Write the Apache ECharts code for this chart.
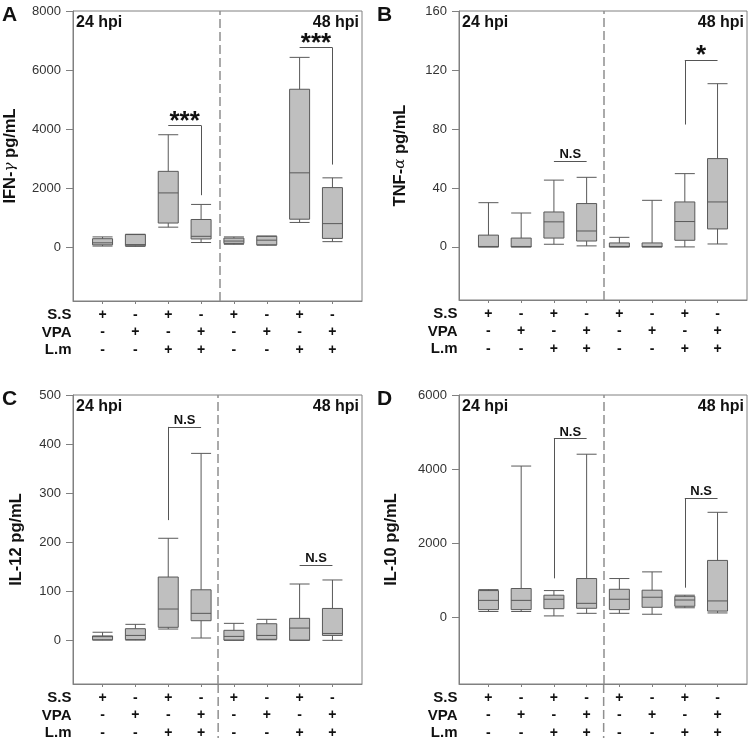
<!DOCTYPE html>
<html><head><meta charset="utf-8">
<script src="https://cdn.jsdelivr.net/npm/echarts@6/dist/echarts.min.js"></script>
<style>html,body{margin:0;padding:0;background:#fff}#c{width:749px;height:742px}</style>
</head><body><div id="c"></div><script>
// ---------- data ----------
const positions = [1, 2, 3, 4, 5, 6, 7, 8];
const rowNames = ['S.S', 'VPA', 'L.m'];
const ssRow  = ['+', '-', '+', '-', '+', '-', '+', '-'];
const vpaRow = ['-', '+', '-', '+', '-', '+', '-', '+'];
const lmRow  = ['-', '-', '+', '+', '-', '-', '+', '+'];
const timeLabels = ['24 hpi', '48 hpi'];
// each box: [min, Q1, median, Q3, max]
const ifnG = [[40, 80, 150, 290, 350], [30, 50, 90, 430, 440], [680, 820, 1840, 2570, 3810], [160, 280, 370, 940, 1450],
              [100, 130, 210, 310, 350], [70, 80, 240, 370, 380], [840, 950, 2520, 5350, 6430], [190, 300, 800, 2020, 2350]];
const tnfA = [[0, 0, 0.3, 8, 30], [0, 0, 0.3, 6, 23], [1.8, 6, 17, 23.7, 45.3], [0.7, 4, 10.8, 29.4, 47.2],
              [0, 0, 0.3, 2.7, 6.5], [0, 0, 0.3, 2.7, 31.6], [0, 4.5, 17.2, 30.5, 49.7], [2, 12.2, 30.5, 59.9, 110.7]];
const il12 = [[0.5, 1, 7.5, 9, 16.5], [0.5, 1.5, 10, 23.7, 32.6], [23, 26.5, 63.8, 129, 208], [4.7, 40, 55, 103, 381],
              [0, 0.5, 8, 20.4, 34.6], [1, 2, 10, 33.8, 42.8], [0, 0.3, 25, 44.8, 114.8], [0, 10, 14, 65, 123]];
const il10 = [[150, 200, 450, 715, 740], [150, 200, 450, 770, 4080], [30, 226, 480, 590, 715], [100, 236, 370, 1040, 4400],
              [100, 200, 480, 750, 1040], [75, 263, 535, 725, 1220], [250, 290, 460, 560, 590], [110, 160, 435, 1530, 2830]];
const yTickValues = [[0, 2000, 4000, 6000, 8000], [0, 40, 80, 120, 160], [0, 100, 200, 300, 400, 500], [0, 2000, 4000, 6000]];
const yRanges = [[-1820, 8000], [-36, 160], [-89, 500], [-1810, 6000]];
const dividerAt = [4.56, 4.52, 4.52, 4.52];
// significance brackets: from, to, bar level, leg position/bottom, text
const sigA = [{from: 3, to: 4, level: 4125, legX: 4, legEnd: 1763, text: '***'},
              {from: 7, to: 8, level: 6760, legX: 8, legEnd: 2800, text: '***'}];
const sigB = [{from: 3, to: 4, level: 58.3, legX: null, legEnd: null, text: 'N.S'},
              {from: 7, to: 8, level: 126.6, legX: 7, legEnd: 83, text: '*'}];
const sigC = [{from: 3, to: 4, level: 435, legX: 3, legEnd: 245, text: 'N.S'},
              {from: 7, to: 8, level: 153.5, legX: null, legEnd: null, text: 'N.S'}];
const sigD = [{from: 3, to: 4, level: 4820, legX: 3, legEnd: 1045, text: 'N.S'},
              {from: 7, to: 8, level: 3207, legX: 7, legEnd: 793, text: 'N.S'}];

// ---------- layout ----------
const FONT = '"Liberation Sans", Arial, sans-serif';
const panels = [
  {letter: 'A', data: ifnG, sig: sigA, name: ['IFN-', 'γ', ' pg/mL'], gap: 54, grid: {left: 73, top: 11, width: 289, height: 290}, extend: false},
  {letter: 'B', data: tnfA, sig: sigB, name: ['TNF-', 'α', ' pg/mL'], gap: 50, grid: {left: 459, top: 11, width: 288, height: 289}, extend: false},
  {letter: 'C', data: il12, sig: sigC, name: ['IL-12 pg/mL', '', ''], gap: 48, grid: {left: 73, top: 395, width: 289, height: 289}, extend: true},
  {letter: 'D', data: il10, sig: sigD, name: ['IL-10 pg/mL', '', ''], gap: 59, grid: {left: 459, top: 395, width: 288, height: 289}, extend: true}
];
const frameColor = '#808080';

const chart = echarts.init(document.getElementById('c'), null, {renderer: 'canvas'});
const grids = [], xAxes = [], yAxes = [], series = [], graphics = [];

panels.forEach((p, i) => {
  grids.push(Object.assign({show: true, borderColor: frameColor, borderWidth: 1, backgroundColor: 'transparent'}, p.grid));
  xAxes.push({
    type: 'value', gridIndex: i, min: 0.1, max: 8.9,
    axisLine: {show: true, onZero: false, lineStyle: {color: frameColor, width: 1}},
    axisTick: {show: true, customValues: positions, length: 3, lineStyle: {color: frameColor}},
    splitLine: {show: false},
    axisLabel: {
      show: true, customValues: positions, margin: 5,
      formatter: v => { const k = positions.indexOf(v); return ssRow[k] + '\n' + vpaRow[k] + '\n' + lmRow[k]; },
      fontFamily: FONT, fontWeight: 'bold', fontSize: 14, lineHeight: 17.5, color: '#111'
    }
  });
  yAxes.push({
    type: 'value', gridIndex: i, min: yRanges[i][0], max: yRanges[i][1],
    axisLine: {show: true, onZero: false, lineStyle: {color: frameColor, width: 1}},
    axisTick: {show: true, customValues: yTickValues[i], length: 7, lineStyle: {color: frameColor}},
    axisLabel: {show: true, customValues: yTickValues[i], margin: 12, formatter: v => String(v),
                fontFamily: FONT, fontSize: 13, color: '#333'},
    splitLine: {show: false},
    name: '{b|' + p.name[0] + '}' + (p.name[1] ? '{g|' + p.name[1] + '}{b|' + p.name[2] + '}' : ''),
    nameLocation: 'middle', nameGap: p.gap,
    nameTextStyle: {rich: {
      b: {fontFamily: FONT, fontWeight: 'bold', fontSize: 16.5, color: '#111'},
      g: {fontFamily: 'DejaVu Serif, serif', fontStyle: 'italic', fontWeight: 'normal', fontSize: 15, color: '#111'}
    }}
  });

  const mlData = [
    {xAxis: dividerAt[i], lineStyle: {type: [9, 4], color: '#8f8f8f', width: 1.5}, label: {show: false}}
  ];
  p.sig.forEach(s => {
    const isNS = s.text === 'N.S';
    mlData.push([
      {coord: [s.from, s.level], lineStyle: {type: 'solid', color: '#555', width: 1},
       label: {show: true, position: 'insideMiddleTop', distance: isNS ? 0 : -9, formatter: s.text,
               fontFamily: FONT, fontWeight: 'bold', fontSize: isNS ? 13 : 26, color: '#111'}},
      {coord: [s.to, s.level]}
    ]);
    if (s.legX !== null) {
      mlData.push([
        {coord: [s.legX, s.level], lineStyle: {type: 'solid', color: '#555', width: 1}, label: {show: false}},
        {coord: [s.legX, s.legEnd]}
      ]);
    }
  });

  series.push({
    type: 'boxplot', xAxisIndex: i, yAxisIndex: i,
    data: p.data.map((b, j) => [positions[j]].concat(b)),
    boxWidth: [20, 20],
    itemStyle: {color: '#bfbfbf', borderColor: '#595959', borderWidth: 1},
    markLine: {silent: true, symbol: 'none', animation: false, data: mlData}
  });

  // panel letter
  graphics.push({type: 'text', left: p.grid.left < 200 ? 2 : 377, top: p.grid.top - 6,
    style: {text: p.letter, font: 'bold 21px ' + FONT, fill: '#111'}});
  // time labels
  graphics.push({type: 'text', x: p.grid.left + 3, y: p.grid.top + 12,
    style: {text: timeLabels[0], font: 'bold 16px ' + FONT, fill: '#111', textAlign: 'left', textVerticalAlign: 'middle'}});
  graphics.push({type: 'text', x: p.grid.left + p.grid.width - 3, y: p.grid.top + 12,
    style: {text: timeLabels[1], font: 'bold 16px ' + FONT, fill: '#111', textAlign: 'right', textVerticalAlign: 'middle'}});
  // row names
  const bottom = p.grid.top + p.grid.height;
  rowNames.forEach((r, k) => {
    graphics.push({type: 'text', x: p.grid.left - 1.5, y: bottom + 14 + k * 17.5,
      style: {text: r, font: 'bold 15px ' + FONT, fill: '#111', textAlign: 'right', textVerticalAlign: 'middle'}});
  });
});

chart.setOption({
  animation: false,
  backgroundColor: '#fff',
  grid: grids, xAxis: xAxes, yAxis: yAxes, series: series, graphic: graphics
});

// dashed divider continues through the treatment table in C and D
const extra = graphics.slice();
panels.forEach((p, i) => {
  if (!p.extend) return;
  const x = chart.convertToPixel({xAxisIndex: i}, dividerAt[i]);
  const bottom = p.grid.top + p.grid.height;
  extra.push({type: 'line', shape: {x1: x, y1: bottom, x2: x, y2: bottom + 54},
    style: {stroke: '#8f8f8f', lineWidth: 1.5, lineDash: [9, 4]}});
});
chart.setOption({graphic: extra});
</script></body></html>
